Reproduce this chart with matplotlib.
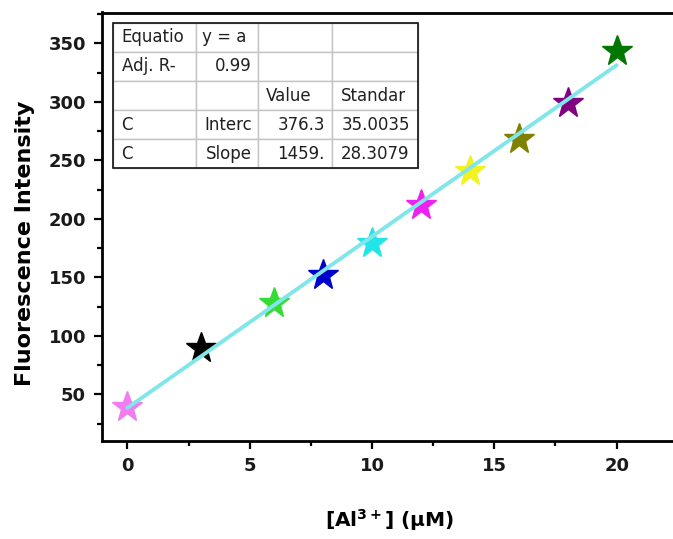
import numpy as np
import matplotlib
matplotlib.use("Agg")
import matplotlib.pyplot as plt
from matplotlib.table import Table
from matplotlib.patches import Rectangle

# --- data ---
conc = [0, 3, 6, 8, 10, 12, 14, 16, 18, 20]
intensity = [39.4, 89.2, 127.7, 152.0, 179.5, 212.2, 240.9, 268.0, 299.4, 343.7]
star_colors = ['#f07cf0', '#000000', '#33dd33', '#0000cc', '#22e5ea',
               '#f020f0', '#f5f020', '#808000', '#800080', '#007700']

# fit results table (as printed in the figure)
table_rows = [
    ['Equatio', 'y = a', '', ''],
    ['Adj. R-', '0.99', '', ''],
    ['', '', 'Value', 'Standar'],
    ['C', 'Interc', '376.3', '35.0035'],
    ['C', 'Slope', '1459.', '28.3079'],
]
table_align = [
    ['left', 'left', 'left', 'left'],
    ['left', 'right', 'left', 'left'],
    ['left', 'left', 'left', 'left'],
    ['left', 'right', 'right', 'right'],
    ['left', 'right', 'right', 'right'],
]
col_widths = [82.7, 62.3, 74.0, 86.0]

x_ticks = [0, 5, 10, 15, 20]
y_ticks = [50, 100, 150, 200, 250, 300, 350]

plt.rcParams['mathtext.default'] = 'bf'

W, H = 673, 539
fig = plt.figure(figsize=(W / 100, H / 100), dpi=100)
ax = fig.add_axes([102 / W, 1 - 441 / H, (680 - 102) / W, (441 - 12.5) / H])

# linear fit through the points
slope, intercept = np.polyfit(conc, intensity, 1)
fit_x = np.array([conc[0], conc[-1]])

for xi, yi, c in zip(conc, intensity, star_colors):
    ax.plot(xi, yi, marker='*', ms=23, color=c, mec=c, ls='none', zorder=2)
ax.plot(fit_x, intercept + slope * fit_x, color='#80e6ea', lw=2.8,
        solid_capstyle='round', zorder=3)

ax.set_xlim(-1.04, 22.59)
ax.set_ylim(10.1, 376.5)
ax.set_xticks(x_ticks)
ax.set_yticks(y_ticks)
ax.set_xticks(np.arange(2.5, 22.6, 5), minor=True)
ax.set_yticks(np.arange(25, 376, 50), minor=True)

for s in ax.spines.values():
    s.set_linewidth(2.0)
ax.tick_params(which='major', direction='out', length=6, width=1.6, pad=5.5)
ax.tick_params(which='minor', direction='out', length=3.5, width=1.6)
for lab in ax.get_xticklabels() + ax.get_yticklabels():
    lab.set_fontsize(13)
    lab.set_fontweight('bold')
    lab.set_color('#1a1a1a')

ax.set_ylabel('Fluorescence Intensity', fontsize=16, fontweight='bold', va='center')
ax.yaxis.set_label_coords((25 - 102) / 578, 0.461)
ax.set_xlabel('[Al$^{3+}$] (μM)', fontsize=14.5, fontweight='bold', va='center')
ax.xaxis.set_label_coords((390 - 102) / 578, (441 - 520) / 428.5)

# --- fit parameter table ---
axw, axh = 578, 428.5
tb_left = (113.3 - 102) / axw
tb_bottom = (441 - 168.3) / axh
tb_w = sum(col_widths) / axw
tb_h = (168.3 - 22.7) / axh
tb = Table(ax, bbox=[tb_left, tb_bottom, tb_w, tb_h])
nrows = len(table_rows)
for r in range(nrows):
    for c in range(len(col_widths)):
        cell = tb.add_cell(r, c, width=col_widths[c] / axw, height=tb_h / nrows,
                           text=table_rows[r][c], loc=table_align[r][c],
                           edgecolor='#c4c4c4', facecolor='white')
        cell.set_linewidth(1.0)
        cell.get_text().set_fontsize(12)
        cell.get_text().set_color('#202020')
tb.auto_set_font_size(False)
tb.set_zorder(5)
ax.add_table(tb)
ax.add_patch(Rectangle((tb_left, tb_bottom), tb_w, tb_h, transform=ax.transAxes,
                       fill=False, ec='#111111', lw=1.2, zorder=6))

fig.savefig('out.png', dpi=100)
